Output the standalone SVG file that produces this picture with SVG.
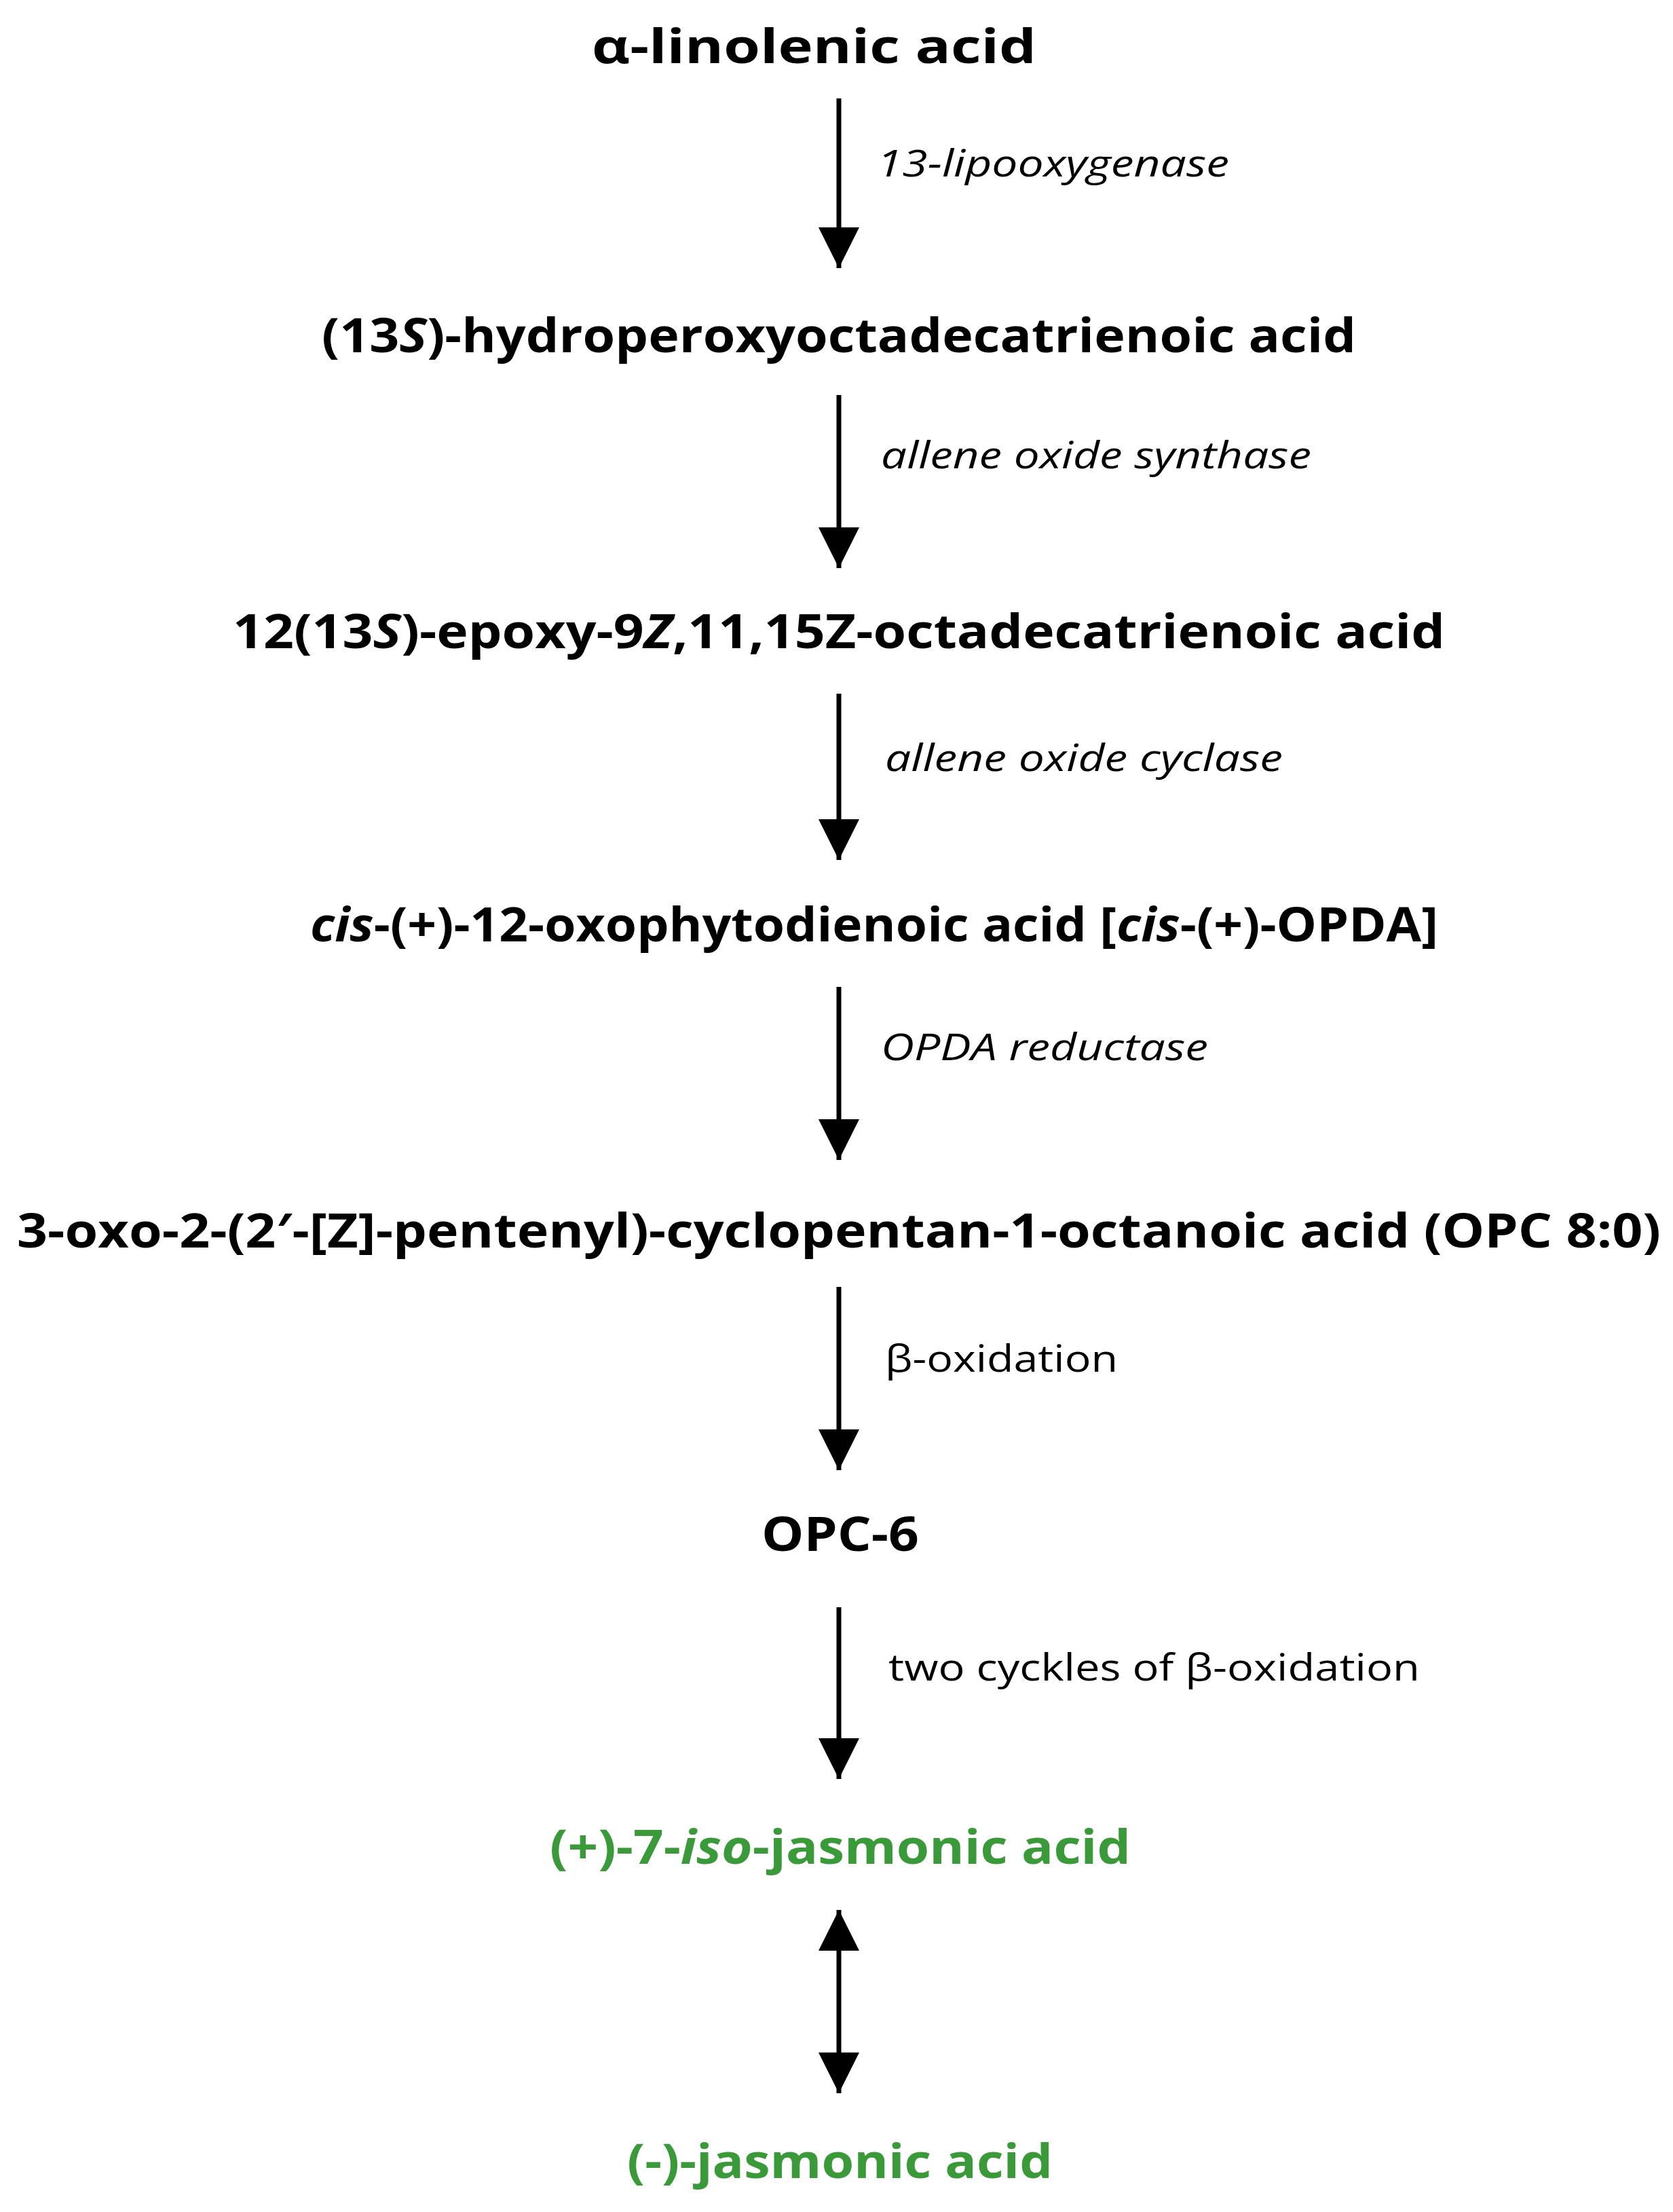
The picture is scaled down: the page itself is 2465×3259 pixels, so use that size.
<svg xmlns="http://www.w3.org/2000/svg" width="2465" height="3259" viewBox="0 0 2465 3259">
<style>
.n{font-family:"Open Sans","Liberation Sans",sans-serif;font-weight:bold;font-size:70px;fill:#000;text-anchor:start}
.g{fill:#3a9a3a}
.l{font-family:"Open Sans","Liberation Sans",sans-serif;font-size:54px;fill:#000}
.i{font-style:italic}
.c line{stroke:#000;stroke-width:7}
</style>
<defs>
<marker id="ah" viewBox="0 0 10 10" refX="10" refY="5" markerWidth="10" markerHeight="10" markerUnits="userSpaceOnUse" orient="auto-start-reverse"><path d="M0,0L10,5L0,10z" fill="#000"/></marker>
<marker id="a" viewBox="0 0 60 60" refX="60" refY="30" markerWidth="60" markerHeight="60" markerUnits="userSpaceOnUse" orient="auto-start-reverse"><path d="M0,0L60,30L0,60z" fill="#000"/></marker>
</defs>
<rect width="2465" height="3259" fill="#fff"/>
<g id="n1"><text class="n" x="872" y="93" textLength="655" lengthAdjust="spacingAndGlyphs">α-linolenic acid</text></g>
<g id="n2"><text class="n" x="474" y="519" textLength="1524" lengthAdjust="spacingAndGlyphs">(13<tspan class="i">S</tspan>)-hydroperoxyoctadecatrienoic acid</text></g>
<g id="n3"><text class="n" x="343" y="955" textLength="1786" lengthAdjust="spacingAndGlyphs">12(13<tspan class="i">S</tspan>)-epoxy-9<tspan class="i">Z</tspan>,11,15Z-octadecatrienoic acid</text></g>
<g id="n4"><text class="n" x="457" y="1387" textLength="1662" lengthAdjust="spacingAndGlyphs"><tspan class="i">cis</tspan>-(+)-12-oxophytodienoic acid [<tspan class="i">cis</tspan>-(+)-OPDA]</text></g>
<g id="n5"><text class="n" x="25" y="1838" textLength="2422" lengthAdjust="spacingAndGlyphs">3-oxo-2-(2′-[Z]-pentenyl)-cyclopentan-1-octanoic acid (OPC 8:0)</text></g>
<g id="n6"><text class="n" x="1122" y="2285" textLength="232" lengthAdjust="spacingAndGlyphs">OPC-6</text></g>
<g id="n7"><text class="n g" x="810" y="2746" textLength="856" lengthAdjust="spacingAndGlyphs">(+)-7-<tspan class="i">iso</tspan>-jasmonic acid</text></g>
<g id="n8"><text class="n g" x="924" y="3209" textLength="627" lengthAdjust="spacingAndGlyphs">(-)-jasmonic acid</text></g>
<g id="labels">
<text class="l i" x="1292" y="260" textLength="519" lengthAdjust="spacingAndGlyphs">13-lipooxygenase</text>
<text class="l i" x="1298" y="690" textLength="634" lengthAdjust="spacingAndGlyphs">allene oxide synthase</text>
<text class="l i" x="1304" y="1136" textLength="586" lengthAdjust="spacingAndGlyphs">allene oxide cyclase</text>
<text class="l i" x="1298" y="1562" textLength="482" lengthAdjust="spacingAndGlyphs">OPDA reductase</text>
<text class="l" x="1304" y="2021" textLength="343" lengthAdjust="spacingAndGlyphs">β-oxidation</text>
<text class="l" x="1309" y="2476" textLength="783" lengthAdjust="spacingAndGlyphs">two cyckles of β-oxidation</text>
</g>
<g id="connectors" class="c">
<line x1="1236" y1="145" x2="1236" y2="395" marker-end="url(#a)"/>
<line x1="1236" y1="582" x2="1236" y2="837" marker-end="url(#a)"/>
<line x1="1236" y1="1022" x2="1236" y2="1267" marker-end="url(#a)"/>
<line x1="1236" y1="1454" x2="1236" y2="1709" marker-end="url(#a)"/>
<line x1="1236" y1="1896" x2="1236" y2="2166" marker-end="url(#a)"/>
<line x1="1236" y1="2368" x2="1236" y2="2621" marker-end="url(#a)"/>
<line x1="1236" y1="2814" x2="1236" y2="3084" marker-start="url(#a)" marker-end="url(#a)"/>
</g>
</svg>
